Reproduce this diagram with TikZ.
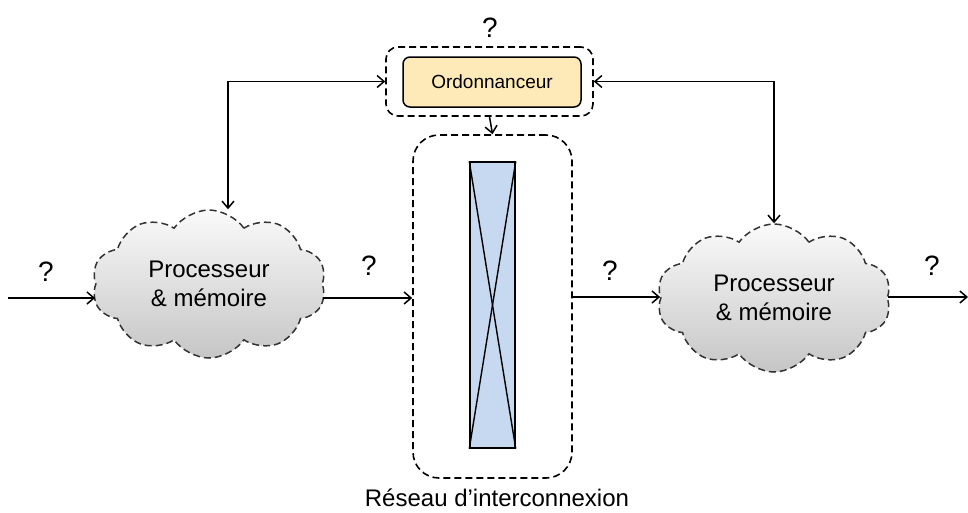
\documentclass[tikz,border=0pt]{standalone}
\usepackage{fontspec}
\setmainfont{Liberation Sans}
\usetikzlibrary{shapes.symbols, arrows.meta}

\definecolor{schedfill}{HTML}{FDEAB8}
\definecolor{xbarfill}{HTML}{C6D9F0}

\tikzset{
    dashbox/.style={draw, dashed, dash pattern=on 7pt off 4pt, line width=1.6pt, rounded corners=#1},
    procnode/.style={cloud, cloud puffs=10, cloud puff arc=110, aspect=1.6,
        draw=gray!40!black, dash pattern=on 7pt off 4pt, line width=1.5pt,
        top color=gray!4, bottom color=gray!45,
        minimum width=234pt, minimum height=148pt, inner sep=0pt,
        align=center, font=\fontsize{24}{29}\selectfont},
    qmark/.style={font=\fontsize{28}{32}\selectfont},
    link/.style={line width=1.5pt, -{Straight Barb[length=7pt, width=12pt]}},
}

\begin{document}
\begin{tikzpicture}[x=1pt, y=-1pt]
    \useasboundingbox (0,0) rectangle (968,512);

    % Scheduler on top
    \node[draw, line width=1.5pt, fill=schedfill, rounded corners=7pt,
          minimum width=178pt, minimum height=50pt,
          font=\fontsize{19}{22}\selectfont] (sched) at (492,82) {Ordonnanceur};
    \node[dashbox=12pt, minimum width=207pt, minimum height=69pt] (schedbox) at (489.5,81.5) {};
    \node[qmark] (qsched) at (490,28) {?};

    % Interconnection network
    \node[dashbox=26pt, minimum width=159pt, minimum height=343pt] (net) at (492.5,306.5) {};
    \node[draw, line width=1.5pt, fill=xbarfill, minimum width=45pt, minimum height=286pt] (xbar) at (492.5,305) {};
    \draw[line width=1.4pt] (xbar.north west) -- (xbar.south east);
    \draw[line width=1.4pt] (xbar.north east) -- (xbar.south west);
    \node[font=\fontsize{24}{28}\selectfont] (netlabel) at (497,498) {Réseau d’interconnexion};

    % Processors
    \node[procnode] (procL) at (209,284) {Processeur\\\& mémoire};
    \node[procnode] (procR) at (774,298) {Processeur\\\& mémoire};

    \coordinate (inL) at (8,298);
    \coordinate (outR) at (968,297);

    % Data path
    \draw[link] (inL) -- (inL -| procL.west);
    \draw[link] (procL.east |- 0,298) -- (net.west |- 0,298);
    \draw[link] (net.east |- 0,297) -- (procR.west |- 0,297);
    \draw[link] (procR.east |- 0,297) -- (outR);
    \node[qmark] (q1) at (46,272) {?};
    \node[qmark] (q2) at (369,266) {?};
    \node[qmark] (q3) at (610,271) {?};
    \node[qmark] (q4) at (932,266) {?};

    % Control links
    \draw[link] (schedbox.south) -- (net.north);
    \draw[link, {Straight Barb[length=7pt, width=12pt]}-{Straight Barb[length=7pt, width=12pt]}]
        (schedbox.west) -| ([xshift=19pt]procL.north);
    \draw[link, {Straight Barb[length=7pt, width=12pt]}-{Straight Barb[length=7pt, width=12pt]}]
        (schedbox.east) -| (procR.north);
\end{tikzpicture}
\end{document}
